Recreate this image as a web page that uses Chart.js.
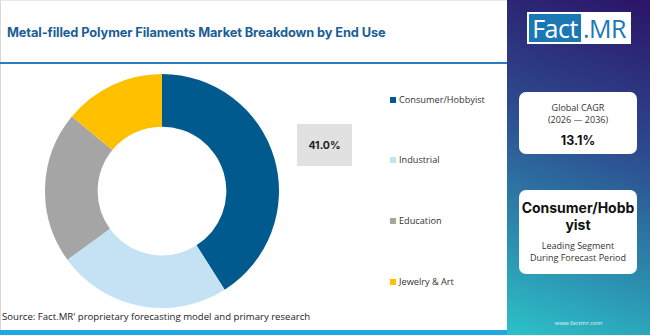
<!DOCTYPE html>
<html lang="en">
<head>
  <meta charset="UTF-8" />
  <title>Metal-filled Polymer Filaments Market Breakdown by End Use</title>
  <script src="https://cdn.jsdelivr.net/npm/chart.js"></script>
  <style>
    body { margin: 0; width: 650px; height: 335px; overflow: hidden; background: #fff; font-family: "Open Sans", Arial, sans-serif; }
    #frame { position: absolute; left: 0; top: 0; width: 649px; height: 334px; border-left: 1px solid #d8d8d8; border-top: 1px solid #e8e8e8; }
    h2 { position: absolute; left: 7px; top: 25px; margin: 0; font-family: Inter, sans-serif; font-size: 12.8px; font-weight: 700; color: #1b5e95; letter-spacing: -0.1px; }
    #rule { position: absolute; left: 0; top: 62px; width: 507px; height: 2px; background: #2f7bb8; }
    #bottomBar { position: absolute; left: 0; top: 330px; width: 507px; height: 5px; background: #22a7e0; }
    #chartBox { position: absolute; left: 45px; top: 74px; width: 234px; height: 234px; }
    #valueBox { position: absolute; left: 297px; top: 124px; width: 55px; height: 42px; background: #e1e1e1; font: 700 10.5px Inter, sans-serif; color: #222; display: flex; align-items: center; justify-content: center; }
    .leg { position: absolute; left: 390px; font-size: 9.2px; color: #333; display: flex; align-items: center; }
    .leg i { display: inline-block; width: 6px; height: 6px; margin-right: 3px; }
    #source { position: absolute; left: 2px; top: 310px; font-size: 9.6px; color: #222; }
    #side { position: absolute; left: 507px; top: 0; width: 143px; height: 335px; background: linear-gradient(200deg, #2c1468 0%, #2d4a8e 40%, #2c8fb0 75%, #2cc2c8 100%); }
    #logo { position: absolute; left: 20px; top: 12px; width: 104px; height: 32px; background: #fff; }
    #logo .f { position: absolute; left: 2px; top: 2px; width: 52px; height: 28px; background: #1a78b4; color: #fff; font: 400 25px "Open Sans", sans-serif; line-height: 28px; text-align: center; letter-spacing: -0.5px; }
    #logo .m { position: absolute; left: 56px; top: 2px; color: #1a78b4; font: 500 25px "Open Sans", sans-serif; line-height: 28px; letter-spacing: -0.5px; }
    .card { position: absolute; left: 12px; width: 118px; background: #fff; border-radius: 7px; text-align: center; color: #333; }
    #cagr { top: 92px; height: 62px; font-size: 9px; }
    #lead { top: 190px; height: 84px; font-size: 9px; }
    #www { position: absolute; left: 0; width: 143px; top: 319px; text-align: center; color: #e8f4f8; font-size: 6px; }
  </style>
</head>
<body>
  <div id="frame"></div>
  <h2>Metal-filled Polymer Filaments Market Breakdown by End Use</h2>
  <div id="rule"></div>
  <div id="chartBox"><canvas id="donut" width="234" height="234"></canvas></div>
  <div id="valueBox"></div>
  <div id="legend"></div>
  <div id="source">Source: Fact.MR' proprietary forecasting model and primary research</div>
  <div id="bottomBar"></div>
  <div id="side">
    <div id="logo"><div class="f">Fact</div><div class="m">.MR</div></div>
    <div class="card" id="cagr">
      <div style="padding-top:10px;line-height:12px">Global CAGR<br>(2026 — 2036)</div>
      <div style="font:700 12.5px Inter,sans-serif;color:#111;margin-top:7px">13.1%</div>
    </div>
    <div class="card" id="lead">
      <div style="font:700 14px Inter,sans-serif;color:#111;padding-top:9px;line-height:17px">Consumer/Hobb<br>yist</div>
      <div style="line-height:12px;margin-top:7px">Leading Segment<br>During Forecast Period</div>
    </div>
    <div id="www">www.factmr.com</div>
  </div>

  <script>
    const segments = ['Consumer/Hobbyist', 'Industrial', 'Education', 'Jewelry & Art'];
    const shares = [41.0, 24.0, 21.0, 14.0];
    const colors = ['#005a8e', '#c4e2f3', '#a5a5a5', '#ffc000'];
    const legendTops = [93, 153, 214, 275];

    new Chart(document.getElementById('donut'), {
      type: 'doughnut',
      data: {
        labels: segments,
        datasets: [{ data: shares, backgroundColor: colors, borderWidth: 0 }]
      },
      options: {
        responsive: false,
        animation: false,
        cutout: '55%',
        layout: { padding: 0 },
        plugins: { legend: { display: false }, tooltip: { enabled: false } }
      }
    });

    document.getElementById('valueBox').textContent = shares[0].toFixed(1) + '%';

    const legend = document.getElementById('legend');
    segments.forEach((name, i) => {
      const row = document.createElement('div');
      row.className = 'leg';
      row.style.top = legendTops[i] + 'px';
      row.innerHTML = `<i style="background:${colors[i]}"></i>${name}`;
      legend.appendChild(row);
    });
  </script>
</body>
</html>
